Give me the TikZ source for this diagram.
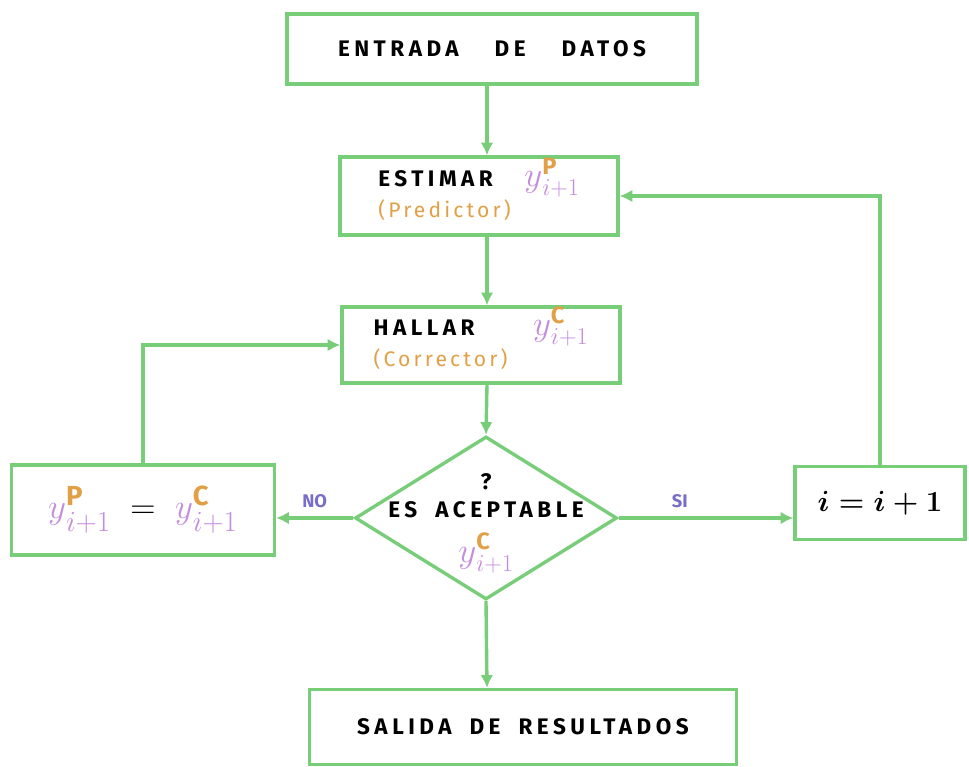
\documentclass[tikz,border=0pt]{standalone}
\usepackage{amsmath}
\usepackage{amssymb}
\usepackage{fontspec}
\setmainfont{Fira Sans}
\usepackage{tikz}
\usetikzlibrary{arrows.meta,positioning,shapes.geometric}
\definecolor{flowgreen}{RGB}{120,205,120}
\definecolor{predcolor}{RGB}{226,160,70}
\definecolor{ycolor}{RGB}{196,140,220}
\definecolor{nocolor}{RGB}{120,110,200}
\tikzset{
  box/.style={draw=flowgreen, line width=2.4pt, fill=white, align=center,
    font=\fontsize{16}{20}\selectfont\bfseries\addfontfeature{LetterSpace=20}},
  decision/.style={box, diamond, aspect=1.6, inner sep=-12pt},
  arrow/.style={-{Latex[length=9pt,width=9pt]}, draw=flowgreen, line width=2.4pt},
  lbl/.style={text=nocolor, font=\fontsize{13}{15}\selectfont\bfseries},
}
\newcommand{\yv}[1]{\textcolor{ycolor}{y}^{\textcolor{predcolor}{\mathbf{#1}}}_{\textcolor{ycolor}{i+1}}}
\newcommand{\ybig}[1]{\smash{\fontsize{24}{26}\selectfont$\yv{#1}$}}
\newcommand{\paren}[1]{\textcolor{predcolor}{\fontsize{15}{18}\selectfont\mdseries\addfontfeature{LetterSpace=15}(#1)}}

\begin{document}
\begin{tikzpicture}
    \useasboundingbox (0,0) rectangle (24.225,19.175);
    \coordinate (spine) at (12.175,0);

    % Draw boxes
    \node[box, minimum width=10.25cm, minimum height=1.75cm] (entrada) at (12.3,17.95)
      {ENTRADA\hspace{1.6em}DE\hspace{1.6em}DATOS};
    \node[box, minimum width=6.95cm, minimum height=1.95cm, align=left] (estimar) at (11.975,14.275)
      {ESTIMAR\hspace{1.4em}\ybig{P}\\[2pt]\paren{Predictor}};
    \node[box, minimum width=6.95cm, minimum height=1.9cm, align=left] (hallar) at (12.025,10.55)
      {HALLAR\hspace{2.6em}\ybig{C}\\[2pt]\paren{Corrector}};
    \node[decision, minimum width=6.55cm, minimum height=4.075cm] (acept) at (12.15,6.225)
      {?\\[0pt]ES\hspace{0.8em}ACEPTABLE\\[12pt]\ybig{C}};
    \node[box, minimum width=6.575cm, minimum height=2.25cm] (igual) at (3.575,6.425)
      {\fontsize{28}{30}\selectfont$\yv{P} \;=\; \yv{C}$};
    \node[box, minimum width=4.25cm, minimum height=1.825cm] (incr) at (22.0,6.6)
      {\huge$\boldsymbol{i = i+1}$};
    \node[box, minimum width=10.675cm, minimum height=1.875cm] (salida) at (13.075,1.0)
      {SALIDA\hspace{0.8em}DE\hspace{0.8em}RESULTADOS};

    % Add arrows
    \draw[arrow] (entrada.south -| spine) -- (estimar.north -| spine);
    \draw[arrow] (estimar.south -| spine) -- (hallar.north -| spine);
    \draw[arrow] (hallar.south -| spine) -- (acept.north);
    \draw[arrow] (acept.west) -- node[lbl, above=3pt] {NO} (acept.west -| igual.east);
    \draw[arrow] (acept.east) -- node[lbl, above=3pt, pos=0.35] {SI} (acept.east -| incr.west);
    \draw[arrow] (acept.south) -- (salida.north -| spine);
    \draw[arrow] (igual.north) |- (hallar.west);
    \draw[arrow] (incr.north) |- (estimar.east);
\end{tikzpicture}
\end{document}
